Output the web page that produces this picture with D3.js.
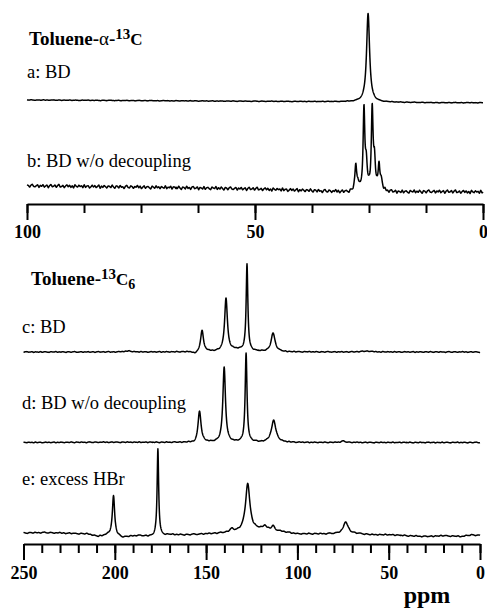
<!DOCTYPE html>
<html>
<head>
<meta charset="utf-8">
<script src="https://cdn.jsdelivr.net/npm/d3@7"></script>
<style>
  body { margin: 0; background: #fff; }
  svg { display: block; font-family: "Liberation Serif", "Times New Roman", serif; }
</style>
</head>
<body>
<svg id="chart" width="487" height="609"></svg>
<script>
// Tick labels (ppm)
const topTicks = [100, 50, 0];
const topMinor = [100, 87.5, 75, 62.5, 50, 37.5, 25, 12.5, 0];
const bottomTicks = [250, 200, 150, 100, 50, 0];
const bottomMinor = d3.range(250, -1, -10);

// Spectrum names
const topTraces = ["a", "b"];
const bottomTraces = ["c", "d", "e"];
const traceLabels = {
  a: "a: BD",
  b: "b: BD w/o decoupling",
  c: "c: BD",
  d: "d: BD w/o decoupling",
  e: "e: excess HBr"
};

// Peaks: [ppm, height (tallest = 100), width at half height in ppm]
const peaksA = [[25.2, 100, 0.8]];
const peaksB = [
  [27.9, 29, 0.45], [27.4, 8, 0.5],
  [26.1, 90, 0.45], [25.6, 27, 0.5],
  [24.3, 90, 0.45], [23.8, 31, 0.5],
  [22.8, 29, 0.45], [22.3, 10, 0.6]
];
const peaksC = [
  [152.2, 24, 1.9], [156, -3, 2], [139.1, 60, 1.8], [127.6, 98, 1.1],
  [113.3, 21, 2.6], [133, 2.5, 12], [193, 1.2, 4], [62, 1, 6]
];
const peaksD = [
  [153.6, 35, 2.0], [156.5, -2, 2], [140.1, 85, 1.7], [128.1, 100, 1.2],
  [113.0, 25, 3.0], [75, 1.5, 3]
];
const peaksE = [
  [200.7, 45, 1.5], [176.4, 99, 1.0], [127.2, 53, 2.9], [136, 3, 2.5],
  [117.7, 4, 2.5], [113.3, 5, 2], [73.5, 13, 3.4]
];

// Slow baseline drift: [ppm, level]
const baseA = [[100, 2.3], [60, 1.1], [30, 0.3], [20, -0.3], [10, -0.8], [0, -0.8]];
const baseB = [[100, 7], [90, 6.5], [75, 5.5], [62, 4.5], [50, 3.5], [40, 2], [30, 0], [20, 0], [10, 0.5], [0, 0]];
const baseC = [[250, 0], [200, 0], [150, 0], [100, 0], [50, 0], [0, 0]];
const baseD = [[250, 0], [200, 0.3], [150, 0], [100, 0], [50, 0], [0, 0]];
const baseE = [
  [250, 0], [240, 0.5], [230, 0], [215, -1], [209, -4], [203, -2], [196, -5], [188, -3],
  [179, -4], [170, -2], [160, -2], [150, -1], [140, 0], [120, 4], [110, 2], [100, -1],
  [80, -1], [65, -1], [60, -2], [50, -2], [40, -3], [30, -4], [20, -3], [10, -4], [5, -2], [0, -3]
];

// Baseline noise texture, read as a rough +/-1 pattern
const noise = [0.3,-0.5,0.8,-0.2,-0.9,0.4,0.1,-0.6,0.9,-0.3,0.2,-0.8,0.5,0.7,-0.4,-0.1,0.6,-0.9,0.3,0.0,
  -0.5,0.8,-0.7,0.2,0.4,-0.3,-0.8,0.6,0.1,-0.2,0.9,-0.6,0.3,-0.4,0.7,-0.1,-0.9,0.5,0.2,-0.7,
  0.4,0.8,-0.3,-0.5,0.1,0.6,-0.8,0.3,-0.2,0.7,-0.6,0.0,0.5,-0.9,0.2,0.8,-0.4,-0.1,0.6,-0.7,
  0.3,0.9,-0.5,-0.2,0.4,-0.8,0.1,0.7,-0.3,0.5,-0.6,0.2,-0.9,0.8,0.0,-0.4,0.6,-0.1,0.3,-0.7,
  0.9,-0.5,0.2,0.4,-0.8,-0.2,0.7,-0.3,0.5,-0.6,0.1,0.8,-0.9,0.3,-0.4,0.6,0.0,-0.7,0.4,0.2,
  -0.5,0.9,-0.1,-0.8,0.5,0.3,-0.6,0.7,-0.2,0.1,-0.9,0.4,0.8,-0.3,-0.5,0.6,0.2,-0.7,0.3,-0.1,
  0.9,-0.4,0.5,-0.8,0.0,0.7,-0.6,0.2,0.4,-0.3,-0.9,0.6,0.1,-0.5,0.8,-0.2,0.3,-0.7,0.5,0.0,
  -0.4,0.9,-0.6,0.2,-0.1,0.7,-0.8,0.4,0.3,-0.5];

const spectra = {
  a: { peaks: peaksA, base: baseA, noiseAmp: 0.4, shift: 0, grain: 1.5 },
  b: { peaks: peaksB, base: baseB, noiseAmp: 2.2, shift: 37, grain: 2.3 },
  c: { peaks: peaksC, base: baseC, noiseAmp: 0.6, shift: 11, grain: 1.8 },
  d: { peaks: peaksD, base: baseD, noiseAmp: 0.6, shift: 73, grain: 1.8 },
  e: { peaks: peaksE, base: baseE, noiseAmp: 0.8, shift: 101, grain: 1.6 }
};

const svg = d3.select("#chart");

// intensity -> pixel offset above each trace baseline
const yInt = d3.scaleLinear().domain([0, 100]).range([0, -88.5]);

const line = d3.line().x(d => d.x).y(d => d.y);

function buildTrace(s, xScale, step) {
  const [d0, d1] = xScale.domain();
  const baseScale = d3.scaleLinear().domain(s.base.map(p => p[0])).range(s.base.map(p => p[1]));
  const idx = d3.scaleLinear().domain([d0, d1]).range([0, (noise.length - 1) * s.grain]);
  const pts = [];
  for (let ppm = d0; ppm >= d1 - 1e-9; ppm -= step) {
    let v = baseScale(ppm);
    s.peaks.forEach(([c, h, w]) => {
      const t = (ppm - c) / (w / 2);
      v += h / (1 + t * t);
    });
    const k = (idx(ppm) + s.shift) % (noise.length - 1);
    const i0 = Math.floor(k), f = k - i0;
    v += s.noiseAmp * (noise[i0] * (1 - f) + noise[i0 + 1] * f);
    pts.push({ ppm, v });
  }
  return pts;
}

function drawPanel(cfg) {
  const x = d3.scaleLinear().domain(cfg.domain).range(cfg.range);
  const yTrace = d3.scalePoint().domain(cfg.traces).range(cfg.traceY);
  const yLabel = d3.scalePoint().domain(cfg.traces).range(cfg.labelY);

  cfg.traces.forEach(name => {
    const pts = buildTrace(spectra[name], x, cfg.step);
    const y0 = yTrace(name);
    svg.append("path")
      .attr("d", line(pts.map(p => ({ x: x(p.ppm), y: y0 + yInt(p.v) }))))
      .attr("fill", "none")
      .attr("stroke", "#000")
      .attr("stroke-width", 1.5)
      .attr("stroke-linejoin", "round");

    svg.append("text")
      .attr("x", cfg.labelX)
      .attr("y", yLabel(name))
      .style("font-size", "18.5px")
      .text(traceLabels[name]);
  });

  // minor ticks
  const minor = svg.append("g")
    .attr("transform", "translate(0," + cfg.axisY + ")")
    .call(d3.axisBottom(x).tickValues(cfg.minor).tickSize(9).tickSizeOuter(0).tickFormat(""));
  minor.select(".domain").remove();
  minor.selectAll("line").attr("stroke-width", 2);

  // major ticks with labels
  const major = svg.append("g")
    .attr("transform", "translate(0," + cfg.axisY + ")")
    .call(d3.axisBottom(x).tickValues(cfg.major).tickSize(16).tickSizeOuter(0).tickPadding(cfg.pad));
  major.select(".domain").attr("stroke-width", 2);
  major.selectAll("line").attr("stroke-width", 2);
  major.selectAll("text")
    .style("font-family", "'Liberation Serif', serif")
    .style("font-size", "18px")
    .style("font-weight", "bold")
    .attr("fill", "#000");
  return x;
}

drawPanel({
  domain: [100, 0], range: [27, 483], step: 0.04,
  traces: topTraces, traceY: [102, 192],
  labelX: 27, labelY: [78, 167],
  axisY: 204, minor: topMinor, major: topTicks, pad: 5
});

drawPanel({
  domain: [250, 0], range: [23.5, 480], step: 0.1,
  traces: bottomTraces, traceY: [352, 533],
  labelX: 22, labelY: [333, 484.5],
  axisY: 544, minor: bottomMinor, major: bottomTicks, pad: 6
});

// Panel titles
const t1 = svg.append("text").attr("x", 29).attr("y", 45).style("font-weight", "bold");
t1.append("tspan").style("font-size", "19px").text("Toluene-");
t1.append("tspan").style("font-size", "19px").style("font-weight", "normal").text("α");
t1.append("tspan").style("font-size", "19px").text("-");
t1.append("tspan").style("font-size", "15px").attr("dy", -6).text("13");
t1.append("tspan").style("font-size", "17px").attr("dy", 6).text("C");

const t2 = svg.append("text").attr("x", 31).attr("y", 285).style("font-weight", "bold");
t2.append("tspan").style("font-size", "19px").text("Toluene-");
t2.append("tspan").style("font-size", "15px").attr("dy", -6).text("13");
t2.append("tspan").style("font-size", "17px").attr("dy", 6).text("C");
t2.append("tspan").style("font-size", "14px").attr("dy", 4).text("6");

svg.append("text")
  .attr("x", 427).attr("y", 603)
  .attr("text-anchor", "middle")
  .style("font-size", "24px")
  .style("font-weight", "bold")
  .text("ppm");
</script>
</body>
</html>
